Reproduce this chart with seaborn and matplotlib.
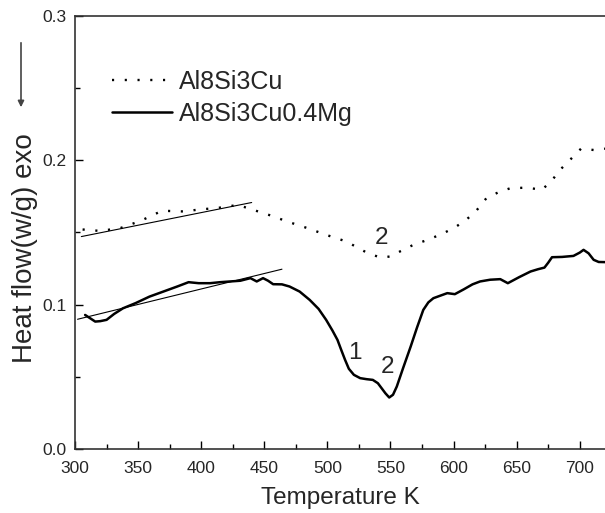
import seaborn as sns
import matplotlib.pyplot as plt
from matplotlib.ticker import MultipleLocator, FormatStrFormatter
from matplotlib.patches import FancyArrowPatch

# Al8Si3Cu (dotted)
t_cu = [306, 320, 336, 352, 369, 386, 400, 412, 429, 437, 454, 470, 484, 500, 515, 532,
        542, 550, 558, 568, 580, 592, 602, 610, 618, 626, 636, 645, 658, 670, 678, 684,
        692, 701, 712, 720]
hf_cu = [0.152, 0.151, 0.153, 0.158, 0.165, 0.1645, 0.166, 0.1668, 0.169, 0.1668, 0.162,
         0.157, 0.153, 0.148, 0.1437, 0.1356, 0.1326, 0.1333, 0.137, 0.1413, 0.145, 0.1494,
         0.154, 0.1587, 0.165, 0.1737, 0.178, 0.1806, 0.181, 0.1795, 0.186, 0.193, 0.200,
         0.208, 0.207, 0.208]

# Al8Si3Cu0.4Mg (solid)
t_mg = [308, 312, 316, 320, 325, 331, 338, 348, 359, 370, 381, 390, 398, 407, 415, 423,
        431, 439, 444, 449, 453, 457, 464, 470, 478, 486, 493, 499, 504, 508, 511, 514,
        517, 521, 526, 531, 536, 540, 543, 546, 549, 552, 555, 560, 566, 571, 576, 580,
        584, 589, 595, 601, 608, 615, 621, 629, 637, 643, 652, 661, 667, 672, 675, 678,
        686, 695, 700, 703, 707, 711, 715, 720]
hf_mg = [0.0928, 0.0905, 0.0882, 0.0885, 0.0894, 0.0935, 0.0974, 0.101, 0.1055, 0.109,
         0.1125, 0.1155, 0.1148, 0.1148, 0.1155, 0.116, 0.1165, 0.1183, 0.116, 0.1183,
         0.1165, 0.1141, 0.114, 0.1125, 0.109, 0.1032, 0.097, 0.0894, 0.082, 0.0755,
         0.0685, 0.0617, 0.0555, 0.0513, 0.049, 0.0483, 0.0478, 0.0455, 0.042, 0.0385,
         0.0356, 0.0375, 0.0432, 0.056, 0.0709, 0.084, 0.0963, 0.1015, 0.1044, 0.106,
         0.1079, 0.1072, 0.1105, 0.114, 0.116, 0.1172, 0.1176, 0.1148, 0.119, 0.1229,
         0.1245, 0.1256, 0.129, 0.1328, 0.133, 0.1337, 0.136, 0.1379, 0.1355, 0.131,
         0.1295, 0.1294]

# baseline tangents
tan_upper_t = [305, 440]
tan_upper_hf = [0.1471, 0.1707]
tan_lower_t = [302, 464]
tan_lower_hf = [0.0898, 0.1245]

# peak labels
peak_labels = ["2", "1", "2"]
peak_t = [543, 522, 548]
peak_hf = [0.146, 0.0663, 0.057]

sns.set_theme(style="ticks")
plt.rcParams['font.family'] = ['Liberation Sans', 'DejaVu Sans']

fig = plt.figure(figsize=(6.05, 5.13), dpi=100)
ax = fig.add_axes([0.124, 0.125, 0.876, 0.844])

sns.lineplot(x=t_cu, y=hf_cu, ax=ax, color='black', linewidth=1.7, label='Al8Si3Cu')
ax.lines[-1].set_dashes((0.9, 4.5))
sns.lineplot(x=t_mg, y=hf_mg, ax=ax, color='black', linewidth=1.8, label='Al8Si3Cu0.4Mg')
sns.lineplot(x=tan_upper_t, y=tan_upper_hf, ax=ax, color='black', linewidth=0.8, legend=False)
sns.lineplot(x=tan_lower_t, y=tan_lower_hf, ax=ax, color='black', linewidth=0.8, legend=False)

for s, tx, ty in zip(peak_labels, peak_t, peak_hf):
    ax.text(tx, ty, s, fontsize=17.5, ha='center', va='center')

ax.set_xlim(300, 720)
ax.set_ylim(0, 0.3)
ax.xaxis.set_major_locator(MultipleLocator(50))
ax.xaxis.set_minor_locator(MultipleLocator(25))
ax.yaxis.set_major_locator(MultipleLocator(0.1))
ax.yaxis.set_minor_locator(MultipleLocator(0.05))
ax.yaxis.set_major_formatter(FormatStrFormatter('%.1f'))
ax.tick_params(which='both', direction='in', labelsize=12.5, color='black')
ax.tick_params(axis='x', pad=9)
ax.tick_params(axis='y', pad=6)
ax.tick_params(which='major', length=6, width=1)
ax.tick_params(which='minor', length=3.5, width=1)
for side in ['left', 'bottom', 'top']:
    ax.spines[side].set_color('#333333')
    ax.spines[side].set_linewidth(1.2)
ax.spines['right'].set_visible(False)

ax.set_xlabel('Temperature K', fontsize=17.5, labelpad=8)
ax.set_ylabel('Heat flow(w/g) exo', fontsize=20)
ax.yaxis.set_label_coords(-0.07, 0.464)

leg = ax.legend(loc='upper left', bbox_to_anchor=(0.027, 0.927), frameon=False,
                fontsize=18, handlelength=2.4, handletextpad=0.3, labelspacing=0.3)

fig.patches.append(FancyArrowPatch(
    (21 / 605, 1 - 40 / 513), (21 / 605, 1 - 110 / 513), transform=fig.transFigure,
    arrowstyle='-|>', mutation_scale=9, color='#444444', linewidth=1.2))

plt.savefig('out.png', dpi=100)
